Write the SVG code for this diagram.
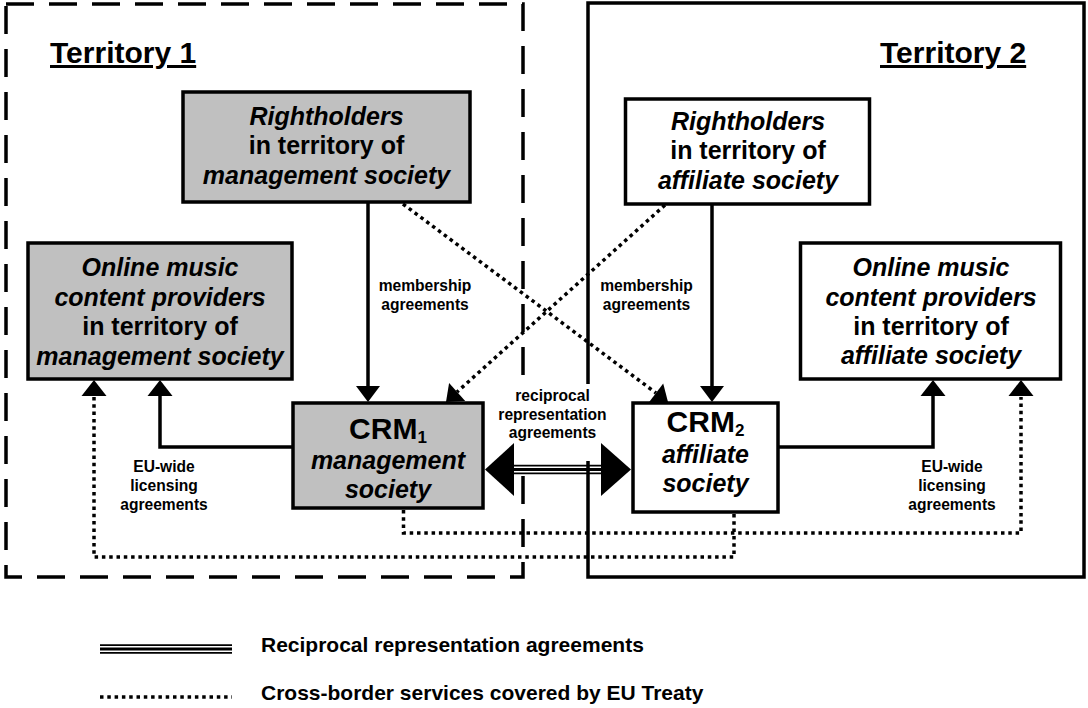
<svg xmlns="http://www.w3.org/2000/svg" width="1088" height="708" viewBox="0 0 1088 708">
<style>
text { font-family: "Liberation Sans", Arial, sans-serif; font-weight: bold; fill: #000; }
.box { stroke: #000; stroke-width: 3.5; }
.gray { fill: #c0c0c0; }
.white { fill: #fff; }
.solid { fill: none; stroke: #000; stroke-width: 3.5; }
.dot { fill: none; stroke: #000; stroke-width: 3.5; stroke-dasharray: 3.5 3.8; }
.head { fill: #000; stroke: none; }
.thin { stroke: #000; stroke-width: 1.8; }
.mid { stroke: #000; stroke-width: 3.2; }
.t25 { font-size: 25px; text-anchor: middle; }
.crm { font-size: 30px; text-anchor: middle; }
.it { font-style: italic; }
.lbl { font-size: 15.6px; text-anchor: middle; }
.title { font-size: 30px; text-decoration: underline; }
.legend { font-size: 21px; }
.terr1 { fill: none; stroke: #000; stroke-width: 3.5; stroke-dasharray: 28 15; }
.terr2 { fill: none; stroke: #000; stroke-width: 3.5; }
</style>

<g id="territory1">
  <rect class="terr1" x="6" y="4" width="517" height="573"/>
  <text class="title" x="50" y="63">Territory 1</text>
</g>
<g id="territory2">
  <rect class="terr2" x="588" y="3" width="496" height="574"/>
  <text class="title" x="880" y="63">Territory 2</text>
</g>

<g id="connectors">
  <!-- label backdrop for reciprocal label -->
  <rect x="497" y="384" width="111" height="77" fill="#fff"/>

  <!-- membership: rightholders -> CRM -->
  <path class="solid" d="M368,203 V387"/>
  <polygon class="head" points="356,386 380,386 368,402"/>
  <path class="solid" d="M712,205 V387"/>
  <polygon class="head" points="700,386 724,386 712,402"/>

  <!-- cross dotted: rightholders -> other CRM -->
  <path class="dot" d="M403,204 L656,393"/>
  <polygon class="head" points="668,402 648.8,402.6 663.2,383.4"/>
  <path class="dot" d="M665,205 L457,392"/>
  <polygon class="head" points="446,402 465.2,400.9 449.1,383.1"/>

  <!-- EU-wide licensing (solid) -->
  <path class="solid" d="M292,447 H160 V395"/>
  <polygon class="head" points="147.5,396 172.5,396 160,380"/>
  <path class="solid" d="M779,447 H933 V395"/>
  <polygon class="head" points="920.5,396 945.5,396 933,380"/>

  <!-- cross-border dotted -->
  <path class="dot" d="M403.5,510 V533 H1021 V397"/>
  <polygon class="head" points="1008.5,396 1033.5,396 1021,380"/>
  <path class="dot" d="M734,514 V557 H94 V397"/>
  <polygon class="head" points="81.5,396 106.5,396 94,380"/>

  <!-- reciprocal representation (triple line, double arrow) -->
  <line class="thin" x1="512" y1="465.6" x2="603" y2="465.6"/>
  <line class="mid" x1="512" y1="469.5" x2="603" y2="469.5"/>
  <line class="thin" x1="512" y1="473.4" x2="603" y2="473.4"/>
  <polygon class="head" points="485,469.5 514,443 514,496"/>
  <polygon class="head" points="631,469.5 601,443 601,496"/>

  <!-- labels -->
  <text class="lbl" x="425" y="291">membership</text>
  <text class="lbl" x="425" y="310">agreements</text>
  <text class="lbl" x="646.5" y="291">membership</text>
  <text class="lbl" x="646.5" y="310">agreements</text>
  <text class="lbl" x="164" y="472">EU-wide</text>
  <text class="lbl" x="164" y="491">licensing</text>
  <text class="lbl" x="164" y="510">agreements</text>
  <text class="lbl" x="952" y="472">EU-wide</text>
  <text class="lbl" x="952" y="491">licensing</text>
  <text class="lbl" x="952" y="510">agreements</text>
  <text class="lbl" x="552.5" y="401">reciprocal</text>
  <text class="lbl" x="552.5" y="419.5">representation</text>
  <text class="lbl" x="552.5" y="438">agreements</text>
</g>

<g id="rightholders1">
  <rect class="box gray" x="183" y="92" width="287" height="110"/>
  <text class="t25 it" x="326.5" y="125">Rightholders</text>
  <text class="t25" x="326.5" y="154">in territory of</text>
  <text class="t25 it" x="326.5" y="184">management society</text>
</g>

<g id="rightholders2">
  <rect class="box white" x="625.5" y="99" width="244" height="105"/>
  <text class="t25 it" x="748" y="130">Rightholders</text>
  <text class="t25" x="748" y="159">in territory of</text>
  <text class="t25 it" x="748" y="189">affiliate society</text>
</g>

<g id="providers1">
  <rect class="box gray" x="28" y="243" width="264" height="136"/>
  <text class="t25 it" x="160" y="276">Online music</text>
  <text class="t25 it" x="160" y="305.5">content providers</text>
  <text class="t25" x="160" y="335">in territory of</text>
  <text class="t25 it" x="160" y="364.5">management society</text>
</g>

<g id="providers2">
  <rect class="box white" x="800.5" y="243" width="260" height="136"/>
  <text class="t25 it" x="931" y="276">Online music</text>
  <text class="t25 it" x="931" y="305.5">content providers</text>
  <text class="t25" x="931" y="335">in territory of</text>
  <text class="t25 it" x="931" y="364">affiliate society</text>
</g>

<g id="crm1">
  <rect class="box gray" x="293" y="403" width="190" height="105"/>
  <text class="crm" x="388" y="439">CRM<tspan font-size="17" dy="4">1</tspan></text>
  <text class="t25 it" x="388" y="469">management</text>
  <text class="t25 it" x="388" y="498">society</text>
</g>

<g id="crm2">
  <rect class="box white" x="633" y="403" width="145" height="109"/>
  <text class="crm" x="705.5" y="432">CRM<tspan font-size="17" dy="4">2</tspan></text>
  <text class="t25 it" x="705.5" y="463">affiliate</text>
  <text class="t25 it" x="705.5" y="492">society</text>
</g>

<g id="legend">
  <line class="thin" x1="100" y1="645.1" x2="232" y2="645.1"/>
  <line class="mid" x1="100" y1="649" x2="232" y2="649"/>
  <line class="thin" x1="100" y1="652.9" x2="232" y2="652.9"/>
  <text class="legend" x="261" y="652">Reciprocal representation agreements</text>
  <path class="dot" d="M100,697 H232"/>
  <text class="legend" x="261" y="700">Cross-border services covered by EU Treaty</text>
</g>
</svg>
